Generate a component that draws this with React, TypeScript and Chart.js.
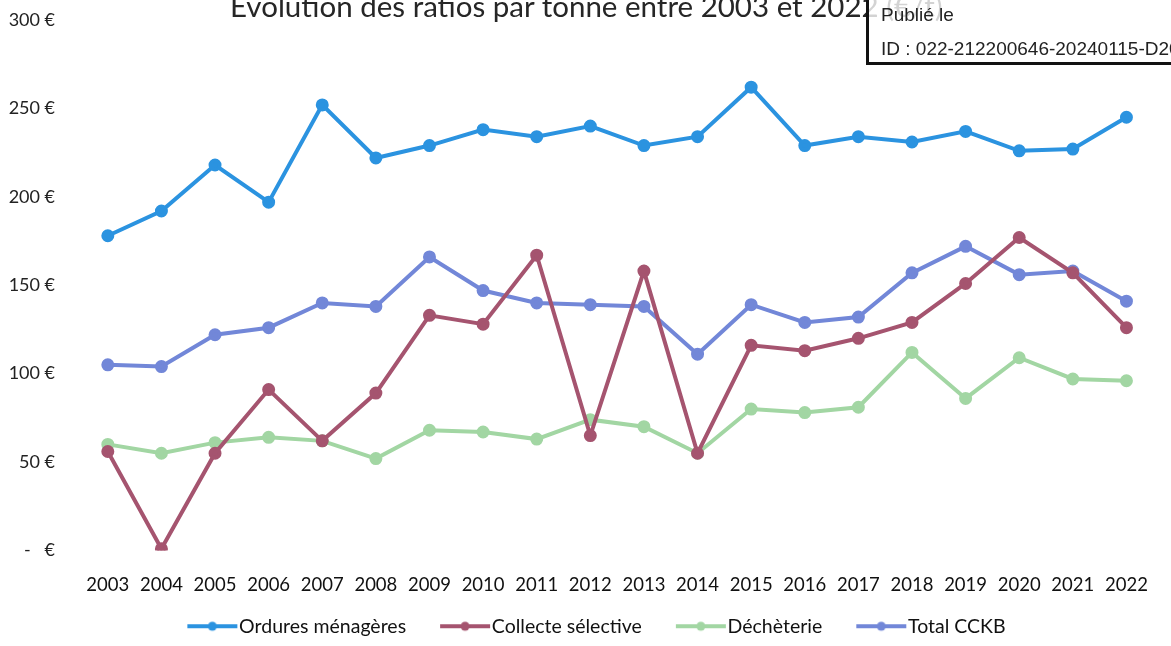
import React, { useEffect, useRef } from "react";
import { Chart, registerables } from "chart.js";

Chart.register(...registerables);

const years = ["2003", "2004", "2005", "2006", "2007", "2008", "2009", "2010", "2011", "2012", "2013", "2014", "2015", "2016", "2017", "2018", "2019", "2020", "2021", "2022"];
const orduresMenageres = [178, 192, 218, 197, 252, 222, 229, 238, 234, 240, 229, 234, 262, 229, 234, 231, 237, 226, 227, 245];
const collecteSelective = [56, 1, 55, 91, 62, 89, 133, 128, 167, 65, 158, 55, 116, 113, 120, 129, 151, 177, 157, 126];
const decheterie = [60, 55, 61, 64, 62, 52, 68, 67, 63, 74, 70, 55, 80, 78, 81, 112, 86, 109, 97, 96];
const totalCCKB = [105, 104, 122, 126, 140, 138, 166, 147, 140, 139, 138, 111, 139, 129, 132, 157, 172, 156, 158, 141];

const seriesNames = ["Ordures ménagères", "Collecte sélective", "Déchèterie", "Total CCKB"];
const seriesColors = ["#2b93e0", "#a5546f", "#a2d6a3", "#7287d8"];

const titleText = "Evolution des ratios par tonne entre 2003 et 2022 (€/t)";
const stampLine1 = "Publié le";
const stampLine2 = "ID : 022-212200646-20240115-D20";

const FONT = "Lato, 'DejaVu Sans', sans-serif";
const LEGEND_FONT = 19.5;
const LEGEND_PAD = 8;
const POINT_W = 68;
const EXTRA = 9;
const MARKER_LEN = 50;

function makeMarker(color: string): HTMLCanvasElement {
  const c = document.createElement("canvas");
  c.width = POINT_W + 2 * EXTRA;
  c.height = 12;
  const ctx = c.getContext("2d")!;
  const end = c.width - 1;
  const start = end - MARKER_LEN;
  ctx.strokeStyle = color;
  ctx.lineWidth = 4;
  ctx.beginPath();
  ctx.moveTo(start, 6);
  ctx.lineTo(end, 6);
  ctx.stroke();
  ctx.fillStyle = color;
  ctx.beginPath();
  ctx.arc((start + end) / 2, 6, 4.5, 0, Math.PI * 2);
  ctx.fill();
  return c;
}

export default function App() {
  const canvasRef = useRef<HTMLCanvasElement | null>(null);

  useEffect(() => {
    if (!canvasRef.current) return;
    const values = [orduresMenageres, collecteSelective, decheterie, totalCCKB];
    const markers = seriesColors.map((c) => makeMarker(c));

    const chart = new Chart(canvasRef.current, {
      type: "line",
      data: {
        labels: years,
        datasets: seriesNames.map((name, i) => ({
          label: name,
          data: values[i],
          borderColor: seriesColors[i],
          backgroundColor: seriesColors[i],
          pointBackgroundColor: seriesColors[i],
          pointBorderColor: seriesColors[i],
          borderWidth: 4,
          pointRadius: 4.5,
          tension: 0,
          fill: false,
        })),
      },
      options: {
        responsive: false,
        animation: false,
        layout: { autoPadding: false, padding: { top: 20, right: 4, left: 0, bottom: 0 } },
        plugins: {
          title: { display: false },
          tooltip: { enabled: false },
          legend: {
            position: "bottom",
            labels: {
              usePointStyle: true,
              pointStyleWidth: POINT_W,
              padding: LEGEND_PAD,
              color: "#111",
              font: { family: FONT, size: LEGEND_FONT },
              generateLabels: (ch: any) =>
                ch.data.datasets.map((ds: any, i: number) => ({
                  text: ds.label,
                  fillStyle: seriesColors[i],
                  strokeStyle: seriesColors[i],
                  lineWidth: 0,
                  hidden: false,
                  datasetIndex: i,
                  pointStyle: markers[i],
                  rotation: 0,
                  fontColor: "#111",
                })),
            },
          },
        },
        scales: {
          x: {
            offset: true,
            grid: { display: false, drawTicks: false },
            border: { display: false },
            ticks: {
              color: "#111",
              font: { family: FONT, size: 18.5 },
              padding: 23,
              maxRotation: 0,
              autoSkip: false,
            },
            afterFit: (scale: any) => {
              scale.height = 58;
            },
          },
          y: {
            min: 0,
            max: 300,
            grid: { display: false, drawTicks: false },
            border: { display: false },
            ticks: {
              stepSize: 50,
              color: "#222",
              padding: 26,
              font: { family: FONT, size: 18 },
              callback: (v: any) => (Number(v) === 0 ? "-   €" : `${v} €`),
            },
            afterFit: (scale: any) => {
              scale.width = 81;
              scale.paddingTop = 0;
              scale.paddingBottom = 0;
            },
          },
        },
      },
    });
    return () => chart.destroy();
  }, []);

  return (
    <div
      style={{
        position: "fixed",
        left: 0,
        top: 0,
        width: 1171,
        height: 646,
        overflow: "hidden",
        background: "#fff",
      }}
    >
      <canvas ref={canvasRef} width={1171} height={646} style={{ position: "absolute", left: 0, top: 0 }} />
      <div
        style={{
          position: "absolute",
          left: 230,
          top: -9,
          whiteSpace: "nowrap",
          fontFamily: FONT,
          fontSize: 29.5,
          lineHeight: "29.5px",
          color: "#262626",
        }}
      >
        {titleText}
      </div>
      <div
        style={{
          position: "absolute",
          left: 866,
          top: -4,
          width: 420,
          height: 63,
          border: "3px solid #111",
          background: "rgba(255,255,255,0.8)",
          fontFamily: "'Liberation Sans', Arial, sans-serif",
          fontSize: 19,
          color: "#222",
          whiteSpace: "nowrap",
        }}
      >
        <div style={{ position: "absolute", left: 12, top: 6, lineHeight: "20px" }}>{stampLine1}</div>
        <div style={{ position: "absolute", left: 12, top: 40, lineHeight: "20px" }}>{stampLine2}</div>
      </div>
    </div>
  );
}
